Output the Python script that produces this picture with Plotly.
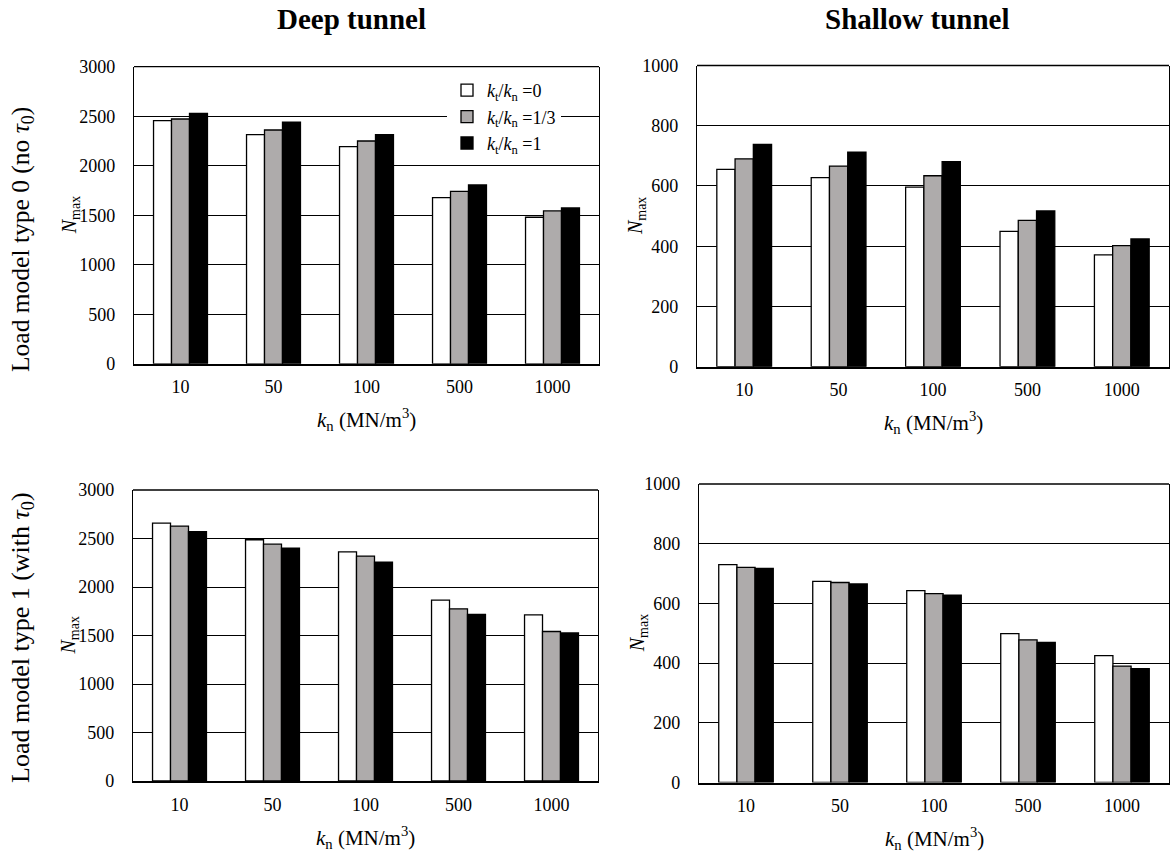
import plotly.graph_objects as go

W, H = 1171, 854

categories = ["10", "50", "100", "500", "1000"]
series_names = ["<i>k</i><sub>t</sub>/<i>k</i><sub>n</sub> =0",
                "<i>k</i><sub>t</sub>/<i>k</i><sub>n</sub> =1/3",
                "<i>k</i><sub>t</sub>/<i>k</i><sub>n</sub> =1"]

# Load model type 0, deep tunnel
deep0_r0 = [2455, 2314, 2193, 1678, 1480]
deep0_r13 = [2472, 2361, 2250, 1742, 1544]
deep0_r1 = [2529, 2439, 2314, 1806, 1574]
# Load model type 0, shallow tunnel
shal0_r0 = [655, 628, 596, 449, 371]
shal0_r13 = [690, 666, 634, 486, 402]
shal0_r1 = [738, 712, 681, 517, 424]
# Load model type 1, deep tunnel
deep1_r0 = [2659, 2487, 2363, 1865, 1713]
deep1_r13 = [2628, 2442, 2319, 1775, 1541]
deep1_r1 = [2570, 2401, 2257, 1717, 1527]
# Load model type 1, shallow tunnel
shal1_r0 = [730, 674, 643, 499, 425]
shal1_r13 = [721, 670, 633, 478, 390]
shal1_r1 = [717, 665, 628, 469, 381]

colors = ["#FFFFFF", "#AEABAB", "#000000"]
FONT = "Liberation Serif"


def px(x):
    return x / W


def py(y):
    return 1 - y / H


panels = [
    # (series, xaxis id, yaxis id, x px range, y px range, ymax, dtick)
    ([deep0_r0, deep0_r13, deep0_r1], "x", "y", (134, 599), (66.7, 363.8), 3000, 500),
    ([shal0_r0, shal0_r13, shal0_r1], "x2", "y2", (697, 1169), (65.5, 366.7), 1000, 200),
    ([deep1_r0, deep1_r13, deep1_r1], "x3", "y3", (133, 598), (490, 781), 3000, 500),
    ([shal1_r0, shal1_r13, shal1_r1], "x4", "y4", (699, 1169), (484, 782.5), 1000, 200),
]

fig = go.Figure()
layout_axes = {}
shapes = []
annotations = []

for pi, (series, xa, ya, (x0, x1), (y0, y1), ymax, dt) in enumerate(panels):
    for si, vals in enumerate(series):
        fig.add_trace(go.Bar(
            x=categories, y=vals, name=series_names[si],
            marker=dict(color=colors[si], line=dict(color="black", width=1.3)),
            xaxis=xa, yaxis=ya, showlegend=(pi == 0),
        ))
    xkey = "xaxis" if xa == "x" else "xaxis" + xa[1:]
    ykey = "yaxis" if ya == "y" else "yaxis" + ya[1:]
    layout_axes[xkey] = dict(
        domain=[px(x0), px(x1)], anchor=ya, type="category", automargin=False,
        showline=True, linewidth=2, linecolor="black", showgrid=False,
        ticks="", ticklabelstandoff=6,
        tickfont=dict(family=FONT, size=18, color="black"),
    )
    layout_axes[ykey] = dict(
        domain=[py(y1), py(y0)], anchor=xa, range=[0, ymax], dtick=dt, automargin=False,
        showline=True, mirror=True, linewidth=1.3, linecolor="black",
        showgrid=True, gridcolor="black", gridwidth=1, zeroline=False,
        ticks="", ticklabelstandoff=14,
        tickfont=dict(family=FONT, size=18, color="black"),
    )
    # top frame line
    shapes.append(dict(type="line", xref=xa + " domain", yref=ya + " domain",
                       x0=0, x1=1, y0=1, y1=1, line=dict(color="black", width=1.3)))
    # x-axis title
    annotations.append(dict(
        text="<i>k</i><sub>n</sub> (MN/m<sup>3</sup>)", xref="paper", yref="paper",
        x=px((x0 + x1) / 2), y=py(y1 + 56), xanchor="center", yanchor="middle",
        showarrow=False, font=dict(family=FONT, size=21, color="black")))
    # N_max label
    nx = x0 - 64 if pi % 2 == 0 else x0 - 61
    annotations.append(dict(
        text="<i>N</i><sub>max</sub>", xref="paper", yref="paper",
        x=px(nx), y=py((y0 + y1) / 2), xanchor="center", yanchor="middle",
        textangle=-90, showarrow=False, font=dict(family=FONT, size=20, color="black")))

# column titles
annotations.append(dict(text="<b>Deep tunnel</b>", xref="paper", yref="paper",
                        x=px(351), y=py(19), xanchor="center", yanchor="middle",
                        showarrow=False, font=dict(family=FONT, size=29, color="black")))
annotations.append(dict(text="<b>Shallow tunnel</b>", xref="paper", yref="paper",
                        x=px(917), y=py(19), xanchor="center", yanchor="middle",
                        showarrow=False, font=dict(family=FONT, size=29, color="black")))
# row labels
annotations.append(dict(text="Load model type 0 (no <i>τ</i><sub>0</sub>)", xref="paper", yref="paper",
                        x=px(22), y=py(240), xanchor="center", yanchor="middle", textangle=-90,
                        showarrow=False, font=dict(family=FONT, size=25.5, color="black")))
annotations.append(dict(text="Load model type 1 (with <i>τ</i><sub>0</sub>)", xref="paper", yref="paper",
                        x=px(22), y=py(638), xanchor="center", yanchor="middle", textangle=-90,
                        showarrow=False, font=dict(family=FONT, size=26, color="black")))

fig.update_layout(
    width=W, height=H, autosize=False,
    margin=dict(l=0, r=0, t=0, b=0, pad=0, autoexpand=False),
    paper_bgcolor="white", plot_bgcolor="white",
    font=dict(family=FONT, color="black"),
    barmode="group", bargap=0.42, bargroupgap=0,
    showlegend=True,
    legend=dict(x=px(447), y=py(72), xanchor="left", yanchor="top",
                bgcolor="white", borderwidth=0, tracegroupgap=0,
                font=dict(family=FONT, size=18, color="black")),
    shapes=shapes, annotations=annotations,
    **layout_axes,
)

fig.write_html("out.html")
